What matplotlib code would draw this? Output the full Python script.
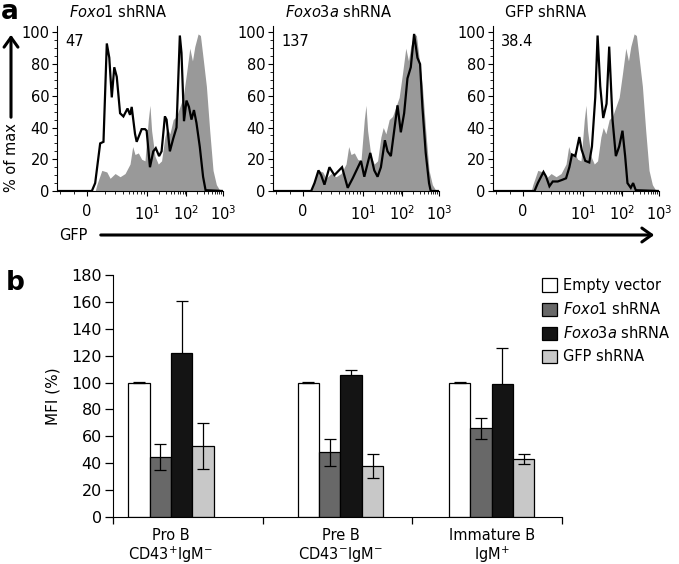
import numpy as np
import matplotlib
matplotlib.use('Agg')
import matplotlib.pyplot as plt
from matplotlib.patches import Patch, FancyArrowPatch

plt.rcParams['font.family'] = ['DejaVu Sans']
plt.rcParams['mathtext.fontset'] = 'dejavusans'

# ---------------- panel a: GFP histograms (x in % of display width) ----------------
gfp_ticks = [18, 54, 78, 100]
gfp_tick_labels = ['0', r'10$^1$', r'10$^2$', r'10$^3$']

# control (shaded) histogram, same in all three panels
ctrl_x = [0, 23, 24, 27, 30, 32, 35, 38, 41, 44, 45.6, 47, 49, 51, 53, 55, 56, 57, 59, 61,
          63, 65, 66.4, 68, 70, 72, 74, 76, 78, 80, 81.6, 83, 85, 86.4, 88, 90, 92, 94,
          96, 98, 100]
ctrl_y = [0, 0, 4, 13, 12, 8, 11, 9, 11, 17, 28, 23, 24, 20, 19, 45, 54, 38, 22, 17,
          19, 34, 40, 36, 45, 47, 53, 59, 74, 90, 82, 91, 99, 98, 84, 66, 38, 13,
          4, 0.5, 0]

foxo1_x = [0, 21, 23, 26, 28, 30, 31.5, 33, 34.5, 36, 38, 40, 42.5, 44, 45, 47, 48, 51,
           53, 54, 56, 58, 59.5, 61.5, 63, 65, 66, 68, 70, 72, 74, 75, 76.5, 78, 79.5,
           81, 82.5, 84, 86, 88, 89.5, 100]
foxo1_y = [0, 0, 5, 30, 31, 93, 84, 59, 78, 72, 49, 47, 52, 48, 53, 36, 31, 39,
           39, 38, 15, 25, 27, 22, 25, 47, 45, 25, 33, 40, 98, 87, 44, 57, 53,
           45, 51, 43, 28, 9, 0.5, 0]

foxo3a_x = [0, 23, 25, 27.4, 29, 31, 34, 37, 41.6, 45, 48, 53, 55, 58.6, 61, 63, 65,
            67.4, 69, 71, 73, 75, 77, 79, 81, 83, 85, 87, 88.6, 90, 92, 94, 95, 100]
foxo3a_y = [0, 0, 5, 13, 10, 4, 15, 10, 15, 2, 8, 19, 9, 24, 13, 9, 15,
            32, 25, 22, 38, 54, 37, 49, 71, 78, 99, 84, 80, 53, 24, 5, 0, 0]

gfpsh_x = [0, 25, 27, 30.4, 32, 34, 36, 39, 41.6, 44, 46, 47.6, 49.6, 52, 53.4, 55.6,
           58, 59.6, 61.6, 63, 64.6, 66.4, 68.4, 70, 72, 74, 76, 78, 79.6, 81, 83,
           84.4, 86, 100]
gfpsh_y = [0, 0, 5, 12, 9, 3, 6, 6, 7, 8, 15, 23, 22, 34, 26, 19,
           18, 28, 59, 98, 66, 46, 55, 91, 45, 22, 28, 38, 22, 5, 2,
           5, 0.5, 0]

hist_titles = [r'$\mathit{Foxo1}$ shRNA', r'$\mathit{Foxo3a}$ shRNA', 'GFP shRNA']
hist_mfi = ['47', '137', '38.4']
hist_lines = [(foxo1_x, foxo1_y), (foxo3a_x, foxo3a_y), (gfpsh_x, gfpsh_y)]

# ---------------- panel b: MFI bars ----------------
populations = ['Pro B\nCD43$^{+}$IgM$^{-}$', 'Pre B\nCD43$^{-}$IgM$^{-}$', 'Immature B\nIgM$^{+}$']
series_names = ['Empty vector', r'$\mathit{Foxo1}$ shRNA', r'$\mathit{Foxo3a}$ shRNA', 'GFP shRNA']
empty_mfi = [100, 100, 100]
foxo1_mfi = [44.5, 48, 66]
foxo3a_mfi = [122, 105.5, 99]
gfp_mfi = [53, 38, 43]
empty_err = [0.5, 0.5, 0.5]
foxo1_err = [9.5, 10, 8]
foxo3a_err = [39, 3.8, 26.5]
gfp_err = [17, 9, 3.6]

W, H = 679, 564
fig = plt.figure(figsize=(W / 100, H / 100), dpi=100)


def box(l, r, t, b):
    return [l / W, 1 - b / H, (r - l) / W, (b - t) / H]


# minor ticks for the biexponential axis
minor = [2, 10]
for a, b in zip(gfp_ticks[:-1], gfp_ticks[1:]):
    for k in range(2, 10):
        minor.append(a + (b - a) * np.log10(k))

panel_lefts = [57, 273, 493]
for i, left in enumerate(panel_lefts):
    ax = fig.add_axes(box(left, left + 166, 26, 191))
    ax.fill_between(ctrl_x, ctrl_y, 0, color='#999999', lw=0)
    lx, ly = hist_lines[i]
    ax.plot(lx, ly, color='black', lw=1.6, solid_joinstyle='miter')
    ax.set_xlim(0, 100)
    ax.set_ylim(0, 104)
    for s in ['top', 'right']:
        ax.spines[s].set_visible(False)
    ax.set_xticks(gfp_ticks)
    ax.set_xticklabels(gfp_tick_labels, fontsize=10.5)
    ax.set_xticks(minor, minor=True)
    ax.set_yticks(range(0, 101, 20))
    ax.set_yticks(range(0, 101, 5), minor=True)
    ax.tick_params(axis='both', which='major', length=3.5, width=0.8, labelsize=10.5, pad=2)
    ax.tick_params(axis='x', which='major', pad=6)
    ax.tick_params(axis='both', which='minor', length=2, width=0.6)
    ax.text(0.07, 1.035, hist_titles[i], transform=ax.transAxes, fontsize=10.5,
            ha='left', va='bottom')
    ax.text(0.05, 0.95, hist_mfi[i], transform=ax.transAxes, fontsize=10.5,
            ha='left', va='top')

# axis captions with arrows
fig.text(10 / W, 1 - 12 / H, 'a', fontsize=19, fontweight='bold', ha='center', va='center')
fig.text(12 / W, 1 - 158 / H, '% of max', rotation=90, fontsize=10.5, ha='center', va='center')
fig.add_artist(FancyArrowPatch(
    (11 / W, 1 - 120 / H), (11 / W, 1 - 32 / H), transform=fig.transFigure,
    arrowstyle='->,head_width=5,head_length=7', lw=2.2, color='black'))
fig.text(73 / W, 1 - 235 / H, 'GFP', fontsize=10.5, ha='center', va='center')
fig.add_artist(FancyArrowPatch(
    (98 / W, 1 - 235 / H), (657 / W, 1 - 235 / H), transform=fig.transFigure,
    arrowstyle='->,head_width=5,head_length=7', lw=2.2, color='black'))

# ---------------- panel b ----------------
axb = fig.add_axes(box(113, 562, 275, 517))
group_pos = np.array([0.387, 1.52, 2.53])
bw = 0.143
colors = ['white', '#686868', '#141414', '#c8c8c8']
vals = [empty_mfi, foxo1_mfi, foxo3a_mfi, gfp_mfi]
errs = [empty_err, foxo1_err, foxo3a_err, gfp_err]
for j in range(4):
    xs = group_pos + (j - 1.5) * bw
    axb.bar(xs, vals[j], width=bw, color=colors[j], edgecolor='black', lw=0.9,
            label=series_names[j], zorder=2)
    # black bars hide the lower half of their error bars
    ez = 1 if j == 2 else 3
    axb.errorbar(xs, vals[j], yerr=errs[j], fmt='none', ecolor='black', elinewidth=0.9,
                 capsize=4.5, capthick=0.9, zorder=ez)

axb.set_xlim(0, 3)
axb.set_ylim(0, 180)
axb.set_yticks(range(0, 181, 20))
axb.set_xticks([0, 1, 2, 3])
axb.set_xticklabels([])
axb.set_xticks(group_pos, minor=True)
axb.set_xticklabels(populations, minor=True, fontsize=10.5, linespacing=1.1)
axb.tick_params(axis='x', which='minor', length=0, pad=8)
axb.tick_params(axis='x', which='major', length=5, width=0.9)
axb.tick_params(axis='y', length=6, width=0.9, labelsize=11.5, pad=2)
for s in ['top', 'right']:
    axb.spines[s].set_visible(False)
axb.set_ylabel('MFI (%)', fontsize=11, labelpad=8)
fig.text(15 / W, 1 - 283 / H, 'b', fontsize=19, fontweight='bold', ha='center', va='center')

handles = [Patch(facecolor=c, edgecolor='black', lw=0.9) for c in colors]
fig.legend(handles, series_names, loc='upper left', bbox_to_anchor=(542 / W, 1 - 278 / H),
           frameon=False, fontsize=10.5, handlelength=1.0, handleheight=1.0,
           handletextpad=0.45, labelspacing=0.55, borderpad=0, borderaxespad=0)

fig.savefig('out.png', dpi=100)
